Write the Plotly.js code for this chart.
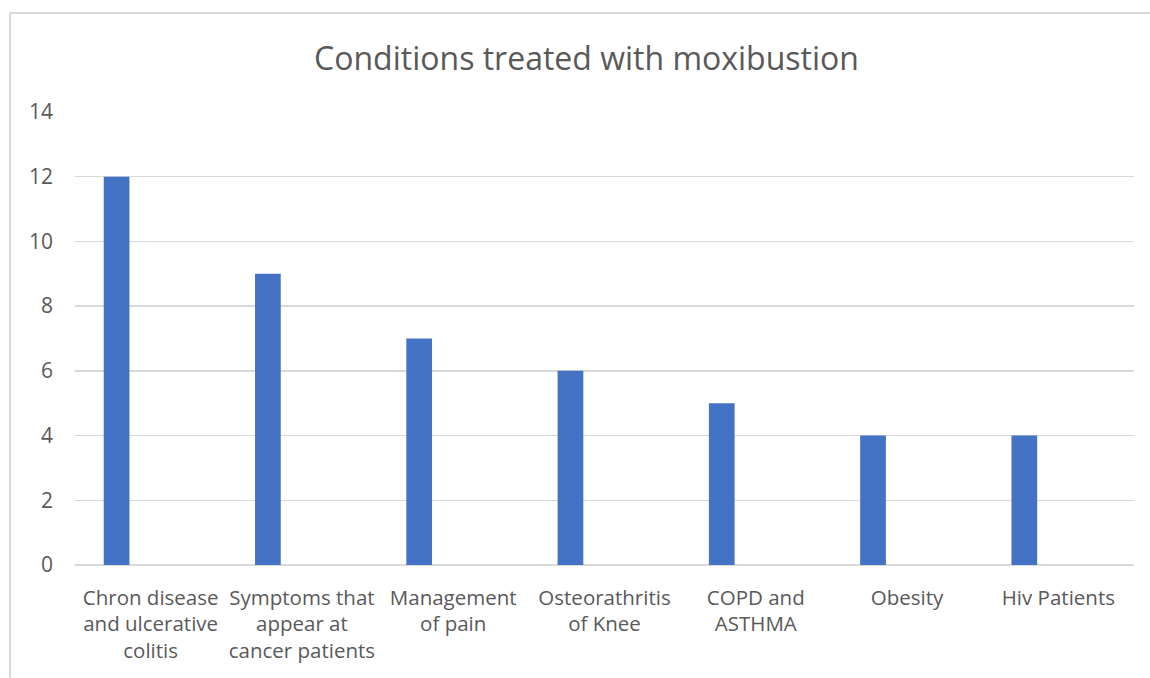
<!DOCTYPE html>
<html>
<head>
<meta charset="utf-8">
<script src="https://cdn.plot.ly/plotly-3.0.1.min.js"></script>
<style>
  html, body { margin: 0; padding: 0; background: #ffffff; }
  #chart { position: absolute; left: 0; top: 0; width: 1150px; height: 678px; }
  #frame { position: absolute; left: 9px; top: 12px; width: 1200px; height: 700px;
           border-left: 2px solid #d9d9d9; border-top: 2px solid #d9d9d9; pointer-events: none; }
</style>
</head>
<body>
<div id="chart"></div>
<div id="frame"></div>
<script>
const categories = [
  "Chron disease and ulcerative colitis",
  "Symptoms that appear at cancer patients",
  "Management of pain",
  "Osteorathritis of Knee",
  "COPD and ASTHMA",
  "Obesity",
  "Hiv Patients"
];
const tickLabels = [
  "Chron disease<br>and ulcerative<br>colitis",
  "Symptoms that<br>appear at<br>cancer patients",
  "Management<br>of pain",
  "Osteorathritis<br>of Knee",
  "COPD and<br>ASTHMA",
  "Obesity",
  "Hiv Patients"
];
const counts = [12, 9, 7, 6, 5, 4, 4];
const yTicks = [0, 2, 4, 6, 8, 10, 12, 14];

const font = "Open Sans, Segoe UI, sans-serif";
const textColor = "#595959";

const trace = {
  type: "bar",
  x: categories,
  y: counts,
  width: 0.17,
  offset: -0.31,
  marker: { color: "#4472c4" },
  hoverinfo: "x+y"
};

const layout = {
  width: 1150,
  height: 678,
  paper_bgcolor: "#ffffff",
  plot_bgcolor: "#ffffff",
  margin: { l: 75, r: 16, t: 112, b: 113 },
  showlegend: false,
  title: {
    text: "Conditions treated with moxibustion",
    font: { family: font, size: 32, color: textColor },
    x: 0.51, xanchor: "center",
    y: 0.914, yanchor: "middle"
  },
  xaxis: {
    type: "category",
    tickvals: categories,
    ticktext: tickLabels,
    tickangle: 0,
    showgrid: false,
    showline: false,
    zeroline: false,
    ticks: "",
    ticklabelstandoff: 18,
    tickfont: { family: font, size: 20.5, color: textColor },
    fixedrange: true
  },
  yaxis: {
    range: [0, 14],
    tickvals: yTicks,
    showgrid: true,
    gridcolor: "#d9d9d9",
    gridwidth: 1.4,
    zeroline: true,
    zerolinecolor: "#d9d9d9",
    zerolinewidth: 1.4,
    showline: false,
    ticks: "",
    ticklabelstandoff: 21,
    tickfont: { family: font, size: 21, color: textColor },
    fixedrange: true
  }
};

Plotly.newPlot("chart", [trace], layout, { displayModeBar: false, staticPlot: true });
</script>
</body>
</html>
